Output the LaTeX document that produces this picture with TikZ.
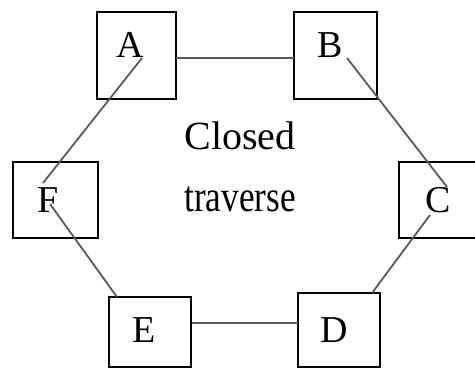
\documentclass[tikz,border=0pt]{standalone}
\usepackage{fontspec}
\setmainfont{Liberation Serif}
\begin{document}
\begin{tikzpicture}[x=1pt,y=-1pt,
  box/.style={draw=black,line width=1.8pt,inner sep=0pt,outer sep=0pt},
  lbl/.style={font=\fontsize{38}{38}\selectfont,inner sep=0pt},
  centretext/.style={font=\fontsize{40}{40}\selectfont,inner sep=0pt,anchor=base},
  conn/.style={draw=black!65,line width=1.8pt}]
\useasboundingbox (0,0) rectangle (475,369);
\clip (0,0) rectangle (475,369);
% boxes
\node[box,minimum width=79pt,minimum height=87pt] (bA) at (136.5,55.5) {};
\node[box,minimum width=83pt,minimum height=87pt] (bB) at (335.5,55.5) {};
\node[box,minimum width=85pt,minimum height=76pt] (bF) at (55.5,200) {};
\node[box,minimum width=90pt,minimum height=76pt] (bC) at (444,200) {};
\node[box,minimum width=82pt,minimum height=70pt] (bE) at (150,332) {};
\node[box,minimum width=82pt,minimum height=74pt] (bD) at (339,330) {};
% letters
\node[lbl] (A) at (130,45) {A};
\node[lbl] (B) at (330,45) {B};
\node[lbl] (F) at (48,200) {F};
\node[lbl] (C) at (438,200) {C};
\node[lbl] (E) at (144,330) {E};
\node[lbl] (D) at (334,330) {D};
% centre text
\node[centretext] (t1) at (240,150) {Closed};
\node[centretext,xscale=0.88,yscale=1.1] (t2) at (240,212) {traverse};
% connector end points
\coordinate (pAB1) at (176,58);
\coordinate (pAB2) at (294,58);
\coordinate (pA) at (142,58);
\coordinate (pF1) at (43,183);
\coordinate (pF2) at (50,204);
\coordinate (pE) at (117,297);
\coordinate (pED1) at (192,323);
\coordinate (pED2) at (298,323);
\coordinate (pB) at (347,58);
\coordinate (pC1) at (447,187);
\coordinate (pC2) at (430,215);
\coordinate (pD) at (372,293);
% connectors
\draw[conn] (pAB1) -- (pAB2);
\draw[conn] (pED1) -- (pED2);
\draw[conn] (pA) -- (pF1);
\draw[conn] (pF2) -- (pE);
\draw[conn] (pB) -- (pC1);
\draw[conn] (pC2) -- (pD);
\end{tikzpicture}
\end{document}
